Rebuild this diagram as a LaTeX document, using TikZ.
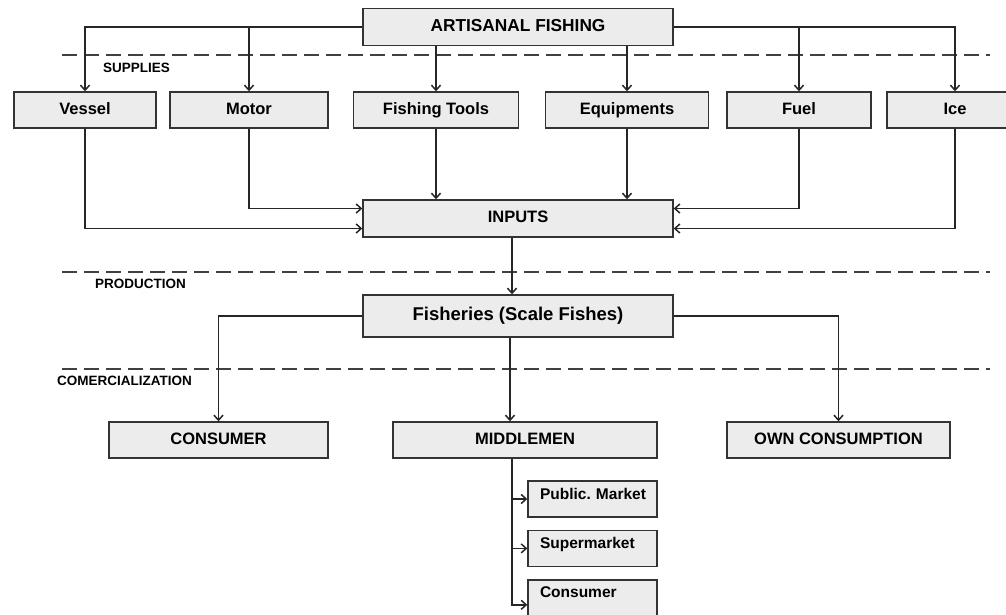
\documentclass[tikz,border=0pt]{standalone}
\usepackage{fontspec}
\setmainfont{Liberation Sans}
\usetikzlibrary{positioning}
\usetikzlibrary{arrows.meta}

\begin{document}
\begin{tikzpicture}[
  x=1pt, y=-1pt,
  node distance=12pt,
  box/.style={draw=black!80,fill=gray!15,line width=1.4pt,minimum height=36pt,inner sep=0pt,text height=12pt,text depth=4pt,font=\bfseries\fontsize{16.5}{18}\selectfont},
  subbox/.style={box,minimum width=129pt,text width=123pt,align=left,inner xsep=3pt,text height=12pt,text depth=12pt,font=\bfseries\fontsize{15.5}{18}\selectfont,execute at begin node={\hspace*{9pt}}},
  wire/.style={draw=black!85,line width=1.5pt},
  arr/.style={wire,-{Straight Barb[length=5pt,width=9pt,line width=1.5pt]}},
  sepline/.style={draw=black!75,line width=1.8pt,dash pattern=on 15pt off 7pt},
  seclabel/.style={anchor=west,inner sep=0pt,font=\bfseries\fontsize{13.5}{15}\selectfont}
]
\useasboundingbox (0,0) rectangle (1006,614);

% section lines
\draw[sepline] (62,55) -- (990,55);
\draw[sepline] (62,272) -- (990,272);
\draw[sepline] (62,369) -- (990,369);
\node[seclabel] (supplies) at (103,68) {SUPPLIES};
\node[seclabel] (production) at (95,284) {PRODUCTION};
\node[seclabel] (comerc) at (57,381) {COMERCIALIZATION};

\node[box,minimum width=310pt,minimum height=37pt,font=\bfseries\fontsize{17.3}{19}\selectfont] (art) at (518,27) {ARTISANAL FISHING};

\node[box,minimum width=142pt] (vessel) at (85,110) {Vessel};
\node[box,minimum width=158pt] (motor) at (249,110) {Motor};
\node[box,minimum width=165pt] (tools) at (436,110) {Fishing Tools};
\node[box,minimum width=163pt] (equip) at (627,110) {Equipments};
\node[box,minimum width=144pt] (fuel) at (799,110) {Fuel};
\node[box,minimum width=136pt] (ice) at (955,110) {Ice};

\node[box,minimum width=310pt,minimum height=37pt] (inputs) at (518,218.5) {INPUTS};
\node[box,minimum width=310pt,minimum height=42pt,text height=13pt,text depth=5pt,font=\bfseries\fontsize{18.5}{20}\selectfont] (fish) at (518,316) {Fisheries (Scale Fishes)};

\node[box,minimum width=219pt] (consumer) at (218.5,440) {CONSUMER};
\node[box,minimum width=264pt] (middle) at (525,440) {MIDDLEMEN};
\node[box,minimum width=223pt] (own) at (838.5,440) {OWN CONSUMPTION};

\node[subbox] (pub) at (592.5,499) {Public.\ Market};
\node[subbox,below=12pt of pub] (super) {Supermarket};
\node[subbox,below=12pt of super,minimum height=50pt,text depth=26pt] (cons) {Consumer};

% supplies
\draw[arr] (art.west) -| (vessel);
\draw[arr] (art.west -| motor) -- (motor);
\draw[arr] (art.south -| tools) -- (tools);
\draw[arr] (art.south -| equip) -- (equip);
\draw[arr] (art.east -| fuel) -- (fuel);
\draw[arr] (art.east) -| (ice);

% inputs
\draw[arr] (vessel) |- ([yshift=-10pt]inputs.west);
\draw[arr] (motor) |- ([yshift=10pt]inputs.west);
\draw[arr] (tools) -- (tools |- inputs.north);
\draw[arr] (equip) -- (equip |- inputs.north);
\draw[arr] (fuel) |- ([yshift=10pt]inputs.east);
\draw[arr] (ice) |- ([yshift=-10pt]inputs.east);
\draw[arr] ([xshift=-6pt]inputs.south) -- ([xshift=-6pt]fish.north);

% commercialization
\draw[arr] (fish.west) -| (consumer);
\draw[arr] ([xshift=-8pt]fish.south) -- ([xshift=-8pt]fish.south |- middle.north);
\draw[arr] (fish.east) -| (own);

\coordinate (trunk) at ([xshift=-13pt]middle.south);
\draw[arr] (trunk) |- (pub);
\draw[arr] (trunk) |- (super);
\draw[arr] (trunk) |- (cons);

\end{tikzpicture}
\end{document}
